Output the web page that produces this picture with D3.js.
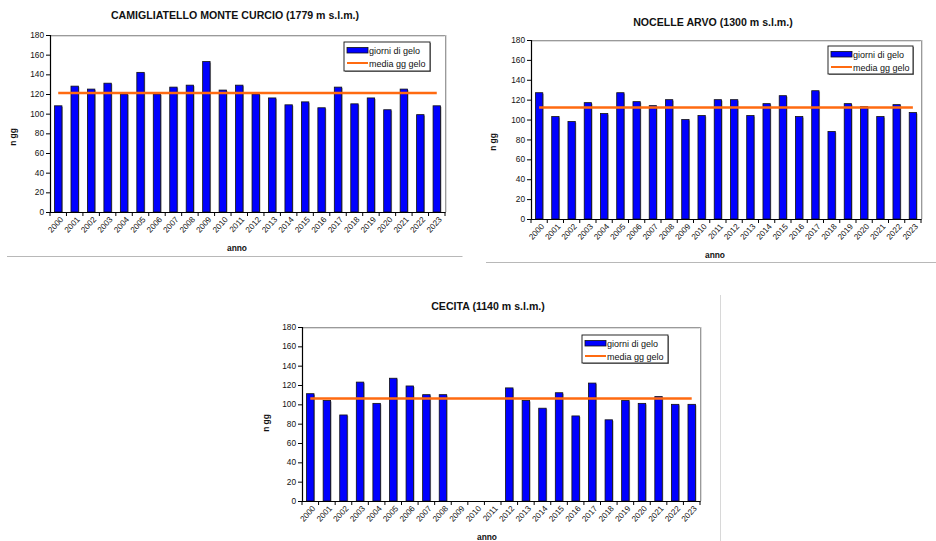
<!DOCTYPE html>
<html>
<head>
<meta charset="utf-8">
<script src="https://cdn.jsdelivr.net/npm/d3@7"></script>
<style>
  html, body { margin: 0; padding: 0; background: #fff; }
  svg { display: block; font-family: "Liberation Sans", Arial, sans-serif; }
</style>
</head>
<body>
<svg id="chart" width="936" height="541"></svg>
<script>
// ---- DATA ----
const years = ["2000","2001","2002","2003","2004","2005","2006","2007","2008","2009","2010","2011",
               "2012","2013","2014","2015","2016","2017","2018","2019","2020","2021","2022","2023"];
const yTicks = [0, 20, 40, 60, 80, 100, 120, 140, 160, 180];
const legendLabels = ["giorni di gelo", "media gg gelo"];

const camigliatelloTitle = "CAMIGLIATELLO MONTE CURCIO (1779 m s.l.m.)";
const camigliatelloValues = [108,128,125,131,120,142,120,127,129,153,124,129,120,116,109,112,106,127,110,116,104,125,99,108];
const camigliatelloMean = 121;

const nocelleTitle = "NOCELLE ARVO (1300 m s.l.m.)";
const nocelleValues = [127,103,98,117,106,127,118,114,120,100,104,120,120,104,116,124,103,129,88,116,113,103,115,107];
const nocelleMean = 112;

const cecitaTitle = "CECITA (1140 m s.l.m.)";
const cecitaValues = [111,104,89,123,101,127,119,110,110,null,null,null,117,104,96,112,88,122,84,104,101,108,100,100];
const cecitaMean = 106;

// ---- DRAWING ----
const svg = d3.select("#chart");
const BLUE = "#0000ff", ORANGE = "#ff6a10";

// separators
svg.append("line").attr("x1", 7).attr("x2", 462.5).attr("y1", 256.5).attr("y2", 256.5)
  .attr("stroke", "#b8b8b8").attr("stroke-width", 1);
svg.append("line").attr("x1", 486).attr("x2", 936).attr("y1", 262.5).attr("y2", 262.5)
  .attr("stroke", "#b8b8b8").attr("stroke-width", 1);
svg.append("line").attr("x1", 720.5).attr("x2", 720.5).attr("y1", 295).attr("y2", 541)
  .attr("stroke", "#d8d8d8").attr("stroke-width", 1);

function drawChart(cfg) {
  const g = svg.append("g");
  const x = d3.scaleBand().domain(years).range([cfg.left, cfg.right]).paddingInner(0.55).paddingOuter(0.275);
  const xb = d3.scaleBand().domain(years).range([cfg.left, cfg.right]);
  const y = d3.scaleLinear().domain([0, 180]).range([cfg.bottom, cfg.top]);

  // plot frame (top + right gray)
  g.append("path")
    .attr("d", `M${cfg.left},${cfg.top + 0.5}H${cfg.right + 0.5}V${cfg.bottom}`)
    .attr("fill", "none").attr("stroke", "#9a9a9a").attr("stroke-width", 1);
  g.append("path")
    .attr("d", `M${cfg.left},${cfg.top + 1.5}H${cfg.right - 0.5}M${cfg.right + 1.5},${cfg.top}V${cfg.bottom}`)
    .attr("fill", "none").attr("stroke", "#dcdcdc").attr("stroke-width", 1);

  // bars
  const data = years.map((yr, i) => ({ yr, v: cfg.values[i] })).filter(d => d.v != null);
  g.selectAll("rect.shadow").data(data).enter().append("rect")
    .attr("x", d => x(d.yr) + 1).attr("y", d => y(d.v) + 1)
    .attr("width", x.bandwidth()).attr("height", d => y(0) - y(d.v) - 1)
    .attr("fill", "#a0a0a0");
  g.selectAll("rect.bar").data(data).enter().append("rect")
    .attr("x", d => x(d.yr)).attr("y", d => y(d.v))
    .attr("width", x.bandwidth()).attr("height", d => y(0) - y(d.v))
    .attr("fill", BLUE).attr("stroke", "#111").attr("stroke-width", 0.8);

  // mean line
  const cx = yr => xb(yr) + xb.bandwidth() / 2;
  g.append("line")
    .attr("x1", cx(years[0])).attr("x2", cx(years[years.length - 1]))
    .attr("y1", y(cfg.mean)).attr("y2", y(cfg.mean))
    .attr("stroke", ORANGE).attr("stroke-width", 2.5);

  // y axis
  const ya = g.append("g").attr("transform", `translate(${cfg.left},0)`)
    .call(d3.axisLeft(y).tickValues(yTicks).tickSize(4).tickPadding(2));
  ya.select(".domain").attr("stroke", "#000").attr("stroke-width", 1.2);
  ya.selectAll(".tick line").attr("stroke", "#000");
  ya.selectAll("text").attr("font-size", "8.3px").attr("fill", "#111")
    .attr("font-family", "Liberation Sans, Arial, sans-serif");

  // x axis
  const xa = g.append("g").attr("transform", `translate(0,${cfg.bottom})`)
    .call(d3.axisBottom(xb).tickSize(0).tickPadding(0));
  xa.select(".domain").attr("stroke", "#000").attr("stroke-width", 1.2);
  xa.selectAll(".tick text")
    .attr("font-size", "8.2px").attr("fill", "#111")
    .attr("font-family", "Liberation Sans, Arial, sans-serif")
    .attr("text-anchor", "end")
    .attr("transform", "translate(2.5,5) rotate(-48)")
    .attr("dy", "0.5em").attr("y", 0);
  // boundary ticks
  const bounds = years.map(yr => xb(yr)).concat([cfg.right]);
  g.selectAll("line.xt").data(bounds).enter().append("line")
    .attr("x1", d => d).attr("x2", d => d)
    .attr("y1", cfg.bottom).attr("y2", cfg.bottom + 4)
    .attr("stroke", "#000").attr("stroke-width", 1);

  // titles
  g.append("text").attr("x", cfg.titleX).attr("y", cfg.titleY)
    .attr("text-anchor", "middle").attr("font-size", "10.6px").attr("font-weight", "bold")
    .attr("fill", "#111").text(cfg.title);
  g.append("text").attr("transform", `translate(${cfg.yLabX},${cfg.yLabY}) rotate(-90)`)
    .attr("text-anchor", "middle").attr("font-size", "8.4px").attr("font-weight", "bold")
    .attr("fill", "#111").text("n gg");
  g.append("text").attr("x", cfg.xLabX).attr("y", cfg.xLabY)
    .attr("text-anchor", "middle").attr("font-size", "8.4px").attr("font-weight", "bold")
    .attr("fill", "#111").text("anno");

  // legend
  const L = cfg.legend;
  const lg = g.append("g").attr("transform", `translate(${L.x},${L.y})`);
  lg.append("rect").attr("x", 1).attr("y", 1).attr("width", L.w).attr("height", L.h)
    .attr("fill", "#8a8a8a");
  lg.append("rect").attr("x", 0).attr("y", 0).attr("width", L.w).attr("height", L.h)
    .attr("fill", "#fff").attr("stroke", "#111").attr("stroke-width", 0.9);
  lg.append("rect").attr("x", 3).attr("y", 5.5).attr("width", 21).attr("height", 5.5)
    .attr("fill", BLUE).attr("stroke", "#111").attr("stroke-width", 0.8);
  lg.append("text").attr("x", 25).attr("y", 11.5).attr("font-size", "9px").attr("fill", "#111")
    .text(legendLabels[0]);
  lg.append("line").attr("x1", 3).attr("x2", 24).attr("y1", 21).attr("y2", 21)
    .attr("stroke", ORANGE).attr("stroke-width", 2);
  lg.append("text").attr("x", 25).attr("y", 24.5).attr("font-size", "9px").attr("fill", "#111")
    .text(legendLabels[1]);
}

drawChart({
  title: camigliatelloTitle, values: camigliatelloValues, mean: camigliatelloMean,
  left: 50, right: 445, top: 35, bottom: 212,
  titleX: 235, titleY: 19, yLabX: 16, yLabY: 137, xLabX: 237, xLabY: 251,
  legend: { x: 344, y: 42, w: 86, h: 29 }
});
drawChart({
  title: nocelleTitle, values: nocelleValues, mean: nocelleMean,
  left: 531, right: 921, top: 40, bottom: 219,
  titleX: 713, titleY: 26, yLabX: 496, yLabY: 142, xLabX: 715, xLabY: 258,
  legend: { x: 828, y: 46, w: 85, h: 28 }
});
drawChart({
  title: cecitaTitle, values: cecitaValues, mean: cecitaMean,
  left: 302, right: 700, top: 327, bottom: 501,
  titleX: 488, titleY: 310, yLabX: 269, yLabY: 423, xLabX: 487, xLabY: 539.5,
  legend: { x: 582, y: 335, w: 86, h: 28 }
});
</script>
</body>
</html>
